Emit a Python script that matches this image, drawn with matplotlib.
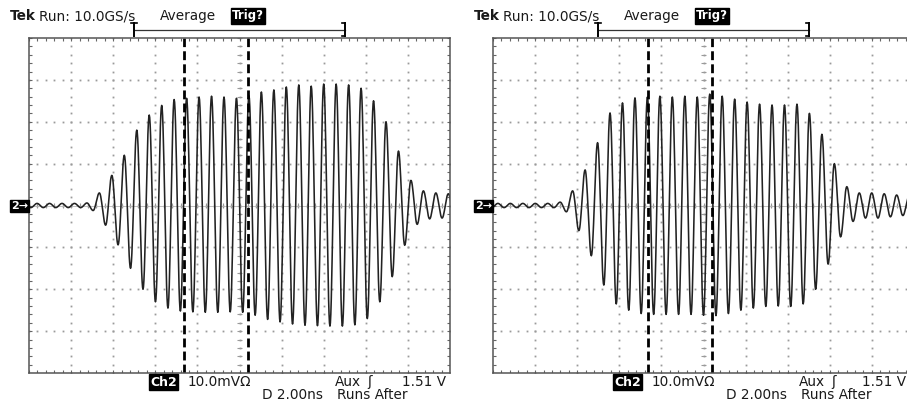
import numpy as np
import matplotlib.pyplot as plt

W, H = 907, 403

# waveform: one oscillation period (in divisions) and position of first peak
PERIOD = 0.296
left_first_peak = -4.808
right_first_peak = -4.884

# positive peak heights per cycle (divisions)
left_peaks = [0.05, 0.05, 0.05, 0.05, 0.06, 0.30, 0.72, 1.20, 1.80, 2.16,
              2.39, 2.53, 2.56, 2.59, 2.61, 2.59, 2.56, 2.62, 2.71, 2.76,
              2.83, 2.88, 2.85, 2.90, 2.90, 2.88, 2.80, 2.50, 2.00, 1.30,
              0.60, 0.35, 0.30, 0.28]
# trough depths: one before the first peak, then one after each peak
left_troughs = [0.05, 0.05, 0.05, 0.05, 0.05, 0.12, 0.47, 0.94, 1.50, 2.00,
                2.30, 2.45, 2.52, 2.54, 2.55, 2.55, 2.54, 2.55, 2.62, 2.72,
                2.78, 2.83, 2.86, 2.87, 2.88, 2.88, 2.85, 2.70, 2.30, 1.70,
                0.95, 0.45, 0.32, 0.30, 0.28]

right_peaks = [0.05, 0.05, 0.05, 0.05, 0.05, 0.08, 0.35, 0.85, 1.50, 2.21,
               2.45, 2.57, 2.59, 2.61, 2.59, 2.61, 2.59, 2.66, 2.61, 2.54,
               2.47, 2.42, 2.40, 2.40, 2.42, 2.20, 1.70, 1.00, 0.45, 0.30,
               0.30, 0.28, 0.25, 0.22]
right_troughs = [0.05, 0.05, 0.05, 0.05, 0.05, 0.05, 0.15, 0.60, 1.20, 1.90,
                 2.35, 2.50, 2.58, 2.60, 2.60, 2.60, 2.60, 2.62, 2.63, 2.58,
                 2.50, 2.45, 2.41, 2.40, 2.41, 2.35, 2.00, 1.40, 0.75, 0.38,
                 0.30, 0.30, 0.27, 0.24, 0.22]

cursors = [-1.33, 0.21]
bracket = [-2.5, 2.5]

header = "Run: 10.0GS/s"
mode = "Average"
trig = "Trig?"
ch_label = "Ch2"
scale = "10.0mV\u03a9"
aux = "Aux"
level = "1.51 V"
delay = "D 2.00ns"
runs = "Runs After"

TXT = '#1a1a1a'
GRID = '#9a9a9a'


def build_trace(first_peak, peaks, troughs):
    ext = []
    for i in range(len(peaks)):
        ext += [-troughs[i], peaks[i]]
    ext.append(-troughs[-1])
    t_ext = first_peak - PERIOD / 2 + PERIOD / 2 * np.arange(len(ext))
    s = np.linspace(0, 1, 14, endpoint=False)
    xs, ys = [[-5.3]], [[ext[0]]]
    for j in range(len(ext) - 1):
        a, b = ext[j], ext[j + 1]
        xs.append(t_ext[j] + s * (t_ext[j + 1] - t_ext[j]))
        ys.append(a + (b - a) * (1 - np.cos(np.pi * s)) / 2)
    xs.append([t_ext[-1], 5.3])
    ys.append([ext[-1], ext[-1]])
    return np.concatenate(xs), np.concatenate(ys)


def ptext(x, y, s, **kw):
    kw.setdefault('color', TXT)
    kw.setdefault('fontsize', 9.8)
    kw.setdefault('va', 'center')
    kw.setdefault('ha', 'left')
    fig.text(x / W, 1 - y / H, s, **kw)


def draw_panel(x0, first_peak, peaks, troughs):
    ax = fig.add_axes([x0 / W, (H - 373) / H, 421 / W, 335 / H])
    ax.set_xlim(-5, 5)
    ax.set_ylim(-4, 4)
    ax.set_xticks([])
    ax.set_yticks([])
    for sp in ax.spines.values():
        sp.set_color('#555555')
        sp.set_linewidth(1.1)

    fx = np.round(np.arange(-5, 5.001, 0.2), 2)
    fy = np.round(np.arange(-4, 4.001, 0.2), 2)

    # dotted graticule
    for gx in range(-4, 5):
        ax.plot(np.full_like(fy, gx), fy, ls='none', marker='s', ms=1.3,
                mew=0, color=GRID)
    for gy in range(-3, 4):
        ax.plot(fx, np.full_like(fx, gy), ls='none', marker='s', ms=1.3,
                mew=0, color=GRID)

    # centre cross ticks
    ax.vlines(fx, -0.07, 0.07, color=GRID, lw=0.8)
    ax.hlines(fy, -0.07, 0.07, color=GRID, lw=0.8)
    ax.axhline(0, color='#b5b5b5', lw=0.6)

    # edge ticks
    ax.vlines(fx, 3.92, 4, color='#666666', lw=0.8)
    ax.vlines(fx, -4, -3.92, color='#666666', lw=0.8)
    ax.hlines(fy, -5, -4.93, color='#666666', lw=0.8)
    ax.hlines(fy, 4.93, 5, color='#666666', lw=0.8)

    x, y = build_trace(first_peak, peaks, troughs)
    ax.plot(x, y, color='#222222', lw=1.15)

    for c in cursors:
        ax.plot([c, c], [-4, 4], color='black', lw=2.0, dashes=(3.2, 1.5))

    # trigger bracket above the screen
    b0, b1 = bracket
    ax.plot([b0, b1], [4.2, 4.2], color='#333333', lw=0.9, clip_on=False)
    ax.plot([b0, b0], [4.04, 4.36], color='black', lw=1.4, clip_on=False)
    ax.plot([b0 - 0.07, b0 + 0.07], [4.36, 4.36], color='black', lw=1.2, clip_on=False)
    ax.plot([b1, b1], [4.04, 4.36], color='black', lw=1.4, clip_on=False)
    ax.plot([b1 - 0.07, b1], [4.36, 4.36], color='black', lw=1.2, clip_on=False)
    ax.plot([b1 - 0.07, b1], [4.04, 4.04], color='black', lw=1.2, clip_on=False)

    # labels
    dx = x0 - 29
    ptext(10 + dx, 16, "Tek", fontweight='bold')
    ptext(39 + dx, 16, header)
    ptext(160 + dx, 16, mode)
    ptext(232 + dx, 16, trig, color='white', fontweight='bold', fontsize=8.5,
          bbox=dict(boxstyle='square,pad=0.12', fc='black', ec='black'))
    ptext(x0 - 1, 206, "2\u2192", color='white', fontweight='bold', fontsize=8,
          ha='right', bbox=dict(boxstyle='square,pad=0.12', fc='black', ec='black'))
    ptext(150 + dx, 382, ch_label, color='white', fontweight='bold', fontsize=9,
          bbox=dict(boxstyle='square,pad=0.1', fc='black', ec='black'))
    ptext(188 + dx, 382, scale)
    ptext(335 + dx, 382, aux)
    ptext(367 + dx, 382, "\u0283")
    ptext(min(446 + dx, W - 1), 382, level, ha='right')
    ptext(262 + dx, 395, delay)
    ptext(337 + dx, 395, runs)
    return ax


fig = plt.figure(figsize=(W / 100, H / 100), dpi=100)
fig.patch.set_facecolor('white')
draw_panel(29, left_first_peak, left_peaks, left_troughs)
draw_panel(493, right_first_peak, right_peaks, right_troughs)

fig.savefig('out.png', dpi=100, facecolor='white')
